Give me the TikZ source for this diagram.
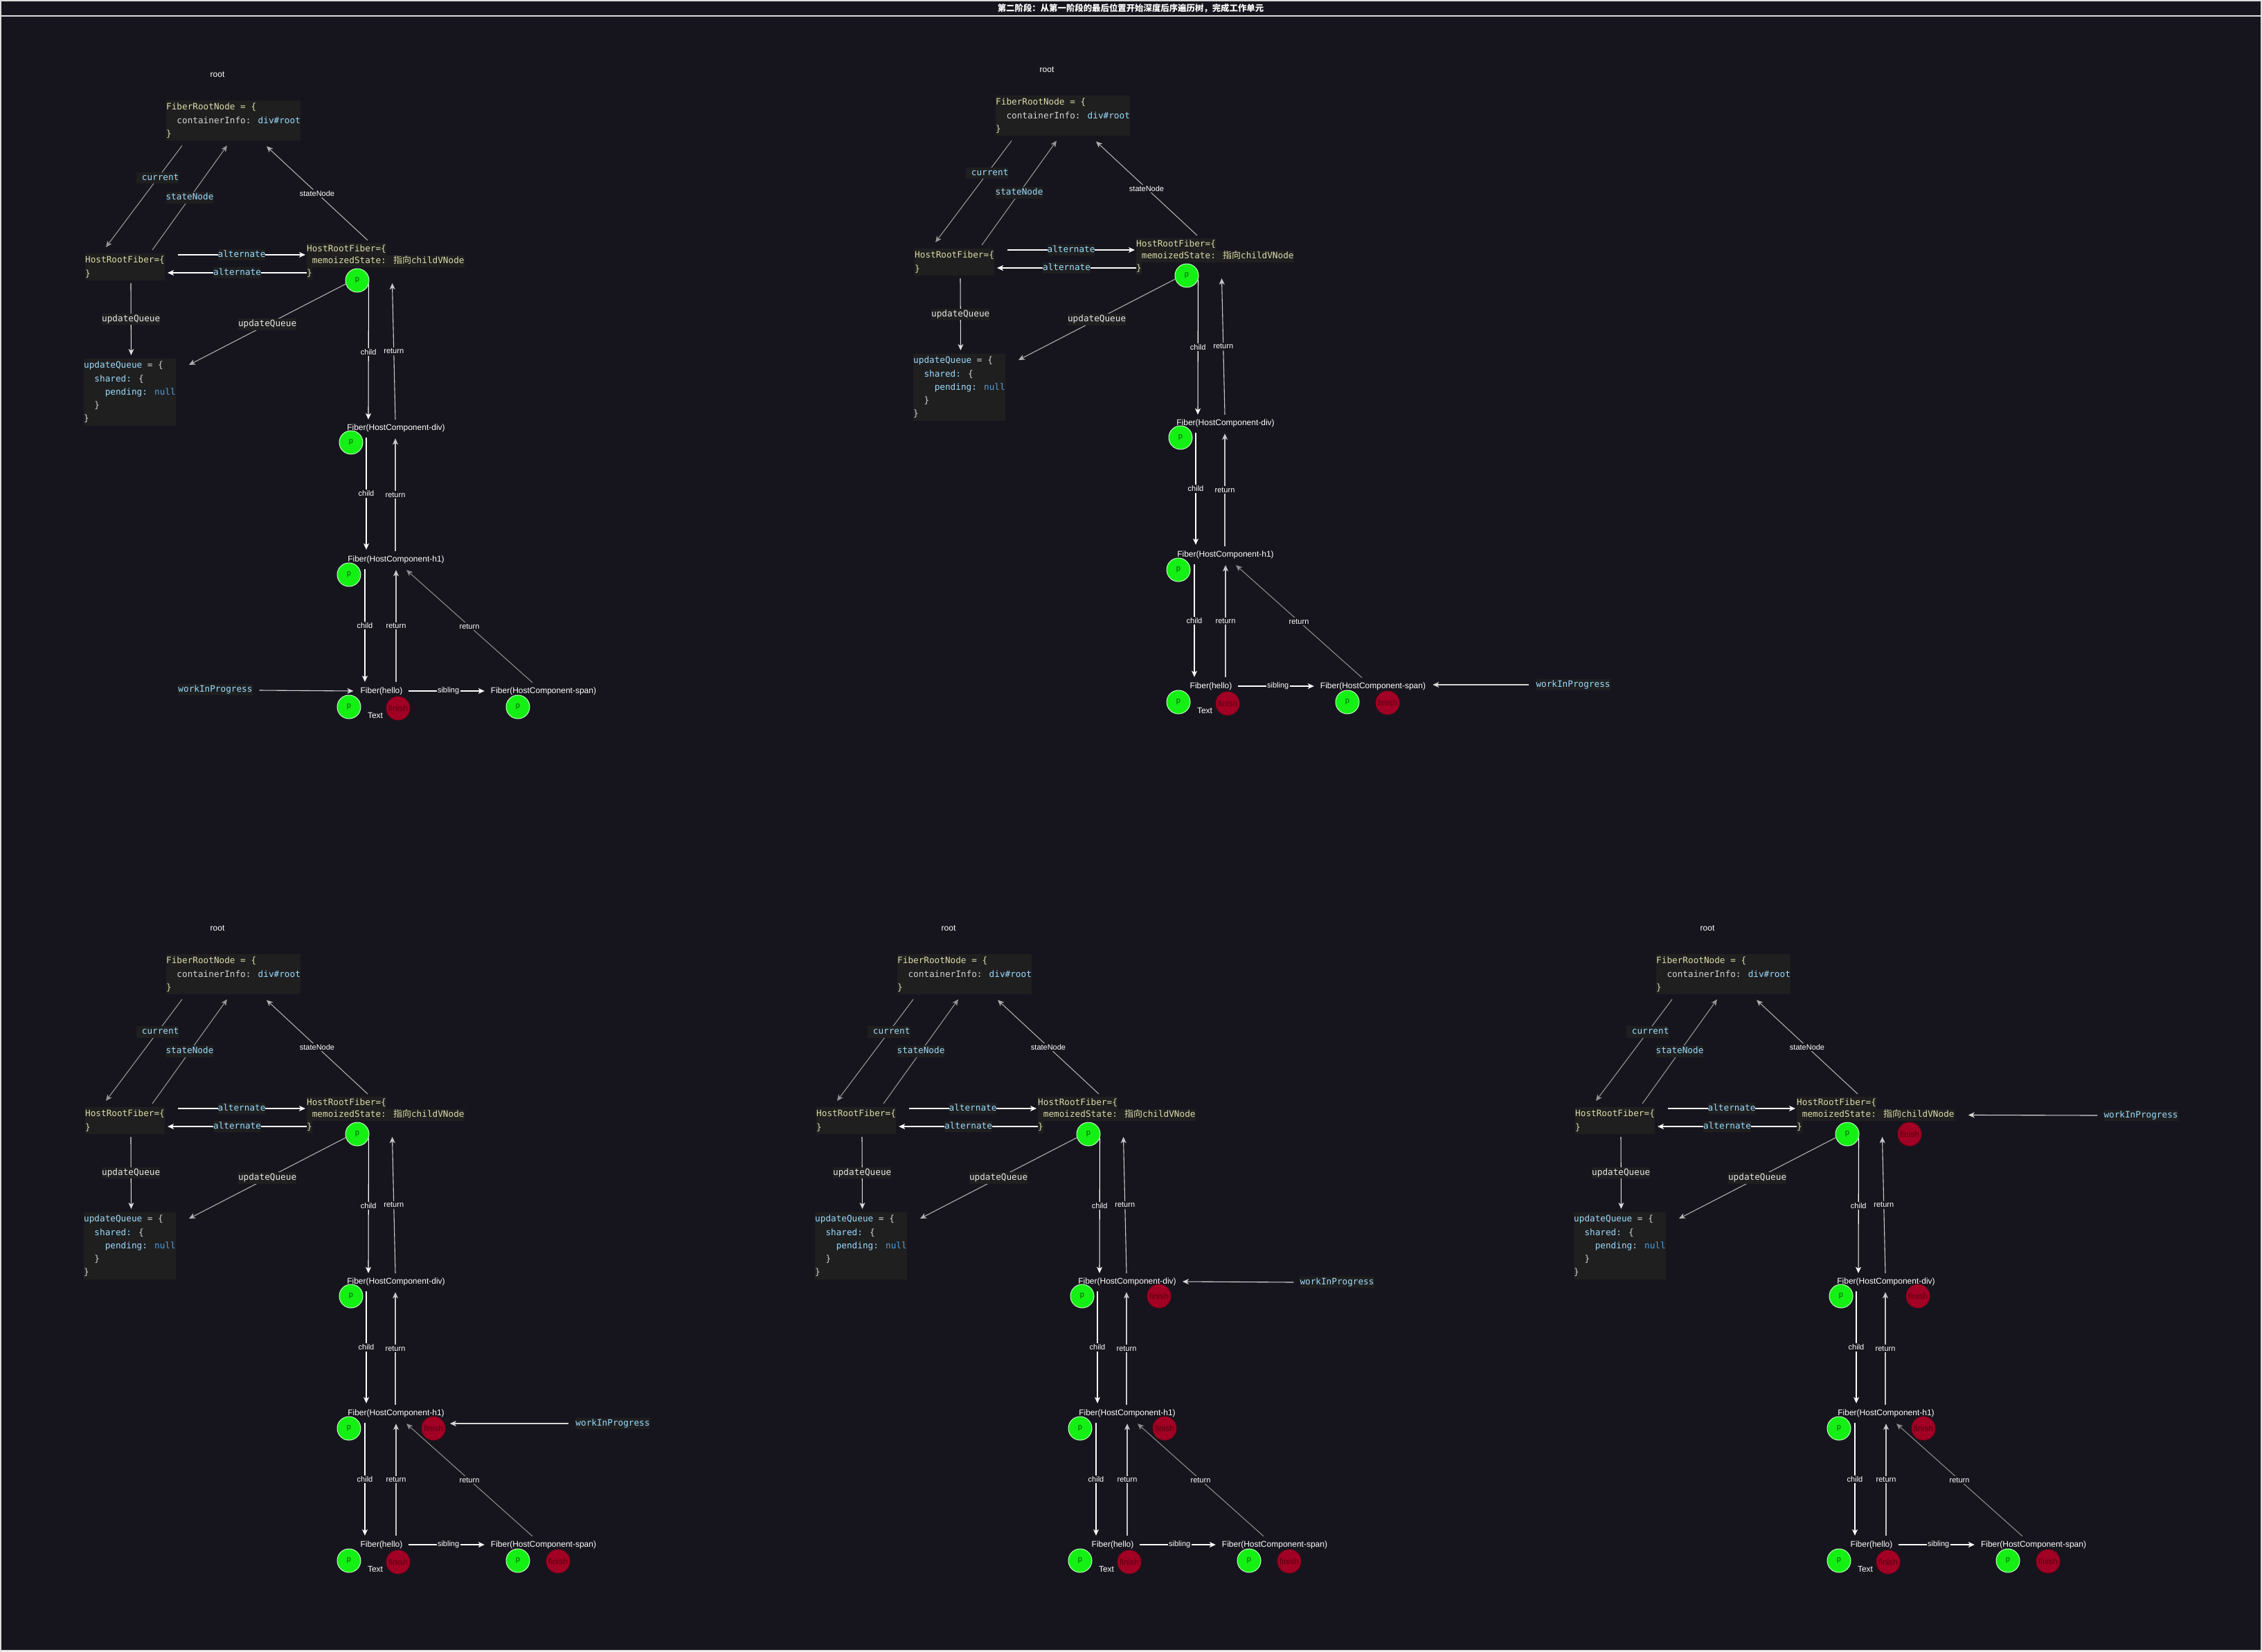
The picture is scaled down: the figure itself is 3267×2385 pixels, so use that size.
\documentclass[tikz,border=0pt]{standalone}
\usepackage{fontspec}
\setmainfont{Liberation Sans}
\newfontfamily\codefont{DejaVu Sans Mono}
\newfontfamily\cjkfont{Noto Sans CJK SC}
\usetikzlibrary{arrows.meta}
\definecolor{canvas}{RGB}{22,21,29}
\definecolor{codebg}{RGB}{31,31,32}
\definecolor{cyel}{HTML}{DCDCAA}
\definecolor{cgray}{HTML}{D4D4D4}
\definecolor{cblue}{HTML}{9CDCFE}
\definecolor{cnull}{HTML}{569CD6}
\definecolor{cwhite}{HTML}{E8E8E8}
\definecolor{pgreen}{RGB}{20,240,20}
\definecolor{pedge}{RGB}{190,255,190}
\definecolor{pgtext}{RGB}{0,90,0}
\definecolor{fred}{RGB}{162,0,36}
\definecolor{fedge}{RGB}{130,0,28}
\definecolor{frtext}{RGB}{85,0,18}
\definecolor{cgA}{RGB}{150,150,150}
\definecolor{cgB}{RGB}{175,175,175}
\definecolor{cgC}{RGB}{220,220,220}
\definecolor{cgD}{RGB}{200,200,200}
\definecolor{cgE}{RGB}{140,140,140}
\definecolor{cgW}{RGB}{215,215,215}
\newlength\chw
\setlength\chw{7.645pt}
\newcommand\cb[1]{{\setlength{\fboxsep}{0pt}\colorbox{codebg}{\strut#1}}}
\tikzset{
  code/.style={font=\codefont\fontsize{12.7}{19.3}\selectfont, fill=codebg, inner sep=0pt, align=left, anchor=north west},
  codeR/.style={font=\codefont\fontsize{12.7}{17.5}\selectfont, text=cyel, inner sep=0pt, align=left, anchor=north west},
  mlbl/.style={font=\codefont\fontsize{12.7}{15}\selectfont, fill=codebg, text=cblue, inner xsep=0pt, inner ysep=2pt, text height=9.5pt, text depth=3pt},
  wlbl/.style={mlbl, text=cwhite},
  slbl/.style={font=\fontsize{11}{13}\selectfont, fill=canvas, text=white, inner sep=1.5pt},
  sanst/.style={font=\fontsize{12}{14}\selectfont, text=white, inner sep=0pt},
  fibt/.style={font=\fontsize{12}{14}\selectfont, text=white, inner sep=0pt, text height=9pt, text depth=3pt},
  pc/.style={circle, minimum size=34pt, inner sep=0pt, fill=pgreen, draw=pedge, line width=1pt, text=pgtext, font=\fontsize{11}{13}\selectfont},
  fc/.style={circle, minimum size=34pt, inner sep=0pt, fill=fred, draw=fedge, line width=1pt, text=frtext, font=\fontsize{12}{14}\selectfont},
  arr/.style={draw=white, line width=1.1pt, -{Stealth[length=9pt,width=8pt,inset=2.5pt]}},
}
\newcommand\fiberpanel{%
  \node[sanst] (root) at (314,108) {root};
  \node[code] (frn) at (240,145) {\strut\textcolor{cyel}{FiberRootNode = \{}\\\strut\hspace*{2\chw}\textcolor{cgray}{containerInfo:} \textcolor{cblue}{div\#root}\\\strut\textcolor{cyel}{\}}};
  \node[code] (hrfL) at (123,366) {\strut\textcolor{cyel}{HostRootFiber=\{}\\\strut\textcolor{cyel}{\}}};
  \node[codeR] (hrfR) at (443,351) {\cb{HostRootFiber=\{}\\\cb{\ memoizedState: {\cjkfont\fontsize{13}{17.5}\selectfont 指向}childVNode}\\\cb{\}}};
  \node[code] (uq) at (121,518) {\strut\textcolor{cblue}{updateQueue} \textcolor{cgray}{= \{}\\\strut\hspace*{2\chw}\textcolor{cblue}{shared:} \textcolor{cgray}{\{}\\\strut\hspace*{4\chw}\textcolor{cblue}{pending:} \textcolor{cnull}{null}\\\strut\hspace*{2\chw}\textcolor{cgray}{\}}\\\strut\textcolor{cgray}{\}}};
  \node[pc] (p1) at (516,405) {p};
  \node[fibt] (divt) at (572,618) {Fiber(HostComponent-div)};
  \node[pc] (p2) at (507,639) {p};
  \node[fibt] (h1t) at (572,808) {Fiber(HostComponent-h1)};
  \node[pc] (p3) at (504,830) {p};
  \node[fibt] (hello) at (551,998) {Fiber(hello)};
  \node[pc] (p4) at (504,1021) {p};
  \node[sanst] (txt) at (542,1033) {Text};
  \node[fibt] (span) at (785,998) {Fiber(HostComponent-span)};
  \node[pc] (p5) at (748,1021) {p};
  \draw[arr, draw=cgA] ([shift={(23,7)}]frn.south west) -- node[mlbl, pos=0.32] (lcur) {\hspace*{\chw}current} ([shift={(30,-9)}]hrfL.north west);
  \draw[arr, draw=cgA] ([shift={(97,-5)}]hrfL.north west) -- node[mlbl] (lsn1) {stateNode} ([shift={(88,7)}]frn.south west);
  \draw[arr, draw=cgB] ([shift={(88,-4)}]hrfR.north west) -- node[slbl] (lsn2) {stateNode} ([shift={(145,8)}]frn.south west);
  \draw[arr] ([shift={(19,2)}]hrfL.north east) -- node[mlbl] (lal1) {alternate} ([shift={(-2,17)}]hrfR.north west);
  \draw[arr] ([shift={(0,43)}]hrfR.north west) -- node[mlbl] (lal2) {alternate} ([shift={(4,28)}]hrfL.north east);
  \draw[arr, draw=cgC] ([shift={(66,4)}]hrfL.south west) -- node[wlbl] (luq1) {updateQueue} ([shift={(2,-5)}]uq.north);
  \draw[arr, draw=cgB] (p1.197) -- node[wlbl] (luq2) {updateQueue} ([shift={(19,9)}]uq.north east);
  \draw[arr] (p1.-20) -- node[slbl] (lch1) {child} ([shift={(-40,-6)}]divt.north);
  \draw[arr, draw=cgD] ([shift={(-1,-6)}]divt.north) -- node[slbl] (lre1) {return} ([shift={(33,4)}]p1.east);
  \draw[arr] ([shift={(-43,8)}]divt.south) -- node[slbl] (lch2) {child} ([shift={(-43,-8)}]h1t.north);
  \draw[arr, draw=cgD] ([shift={(-1,-6)}]h1t.north) -- node[slbl] (lre2) {return} ([shift={(-1,9)}]divt.south);
  \draw[arr] ([shift={(-45,8)}]h1t.south) -- node[slbl] (lch3) {child} ([shift={(-24,-7)}]hello.north);
  \draw[arr, draw=cgD] ([shift={(21,-7)}]hello.north) -- node[slbl] (lre3) {return} ([shift={(0,9)}]h1t.south);
  \draw[arr, draw=cgE] ([shift={(-16,-6)}]span.north) -- node[slbl] (lre4) {return} ([shift={(15,9)}]h1t.south);
  \draw[arr] ([shift={(8,0)}]hello.east) -- node[slbl, pos=0.527] (lsib) {sibling} ([shift={(-9,0)}]span.west);
}
\begin{document}
\begin{tikzpicture}[x=1pt, y=-1pt]
  \useasboundingbox (0,0) rectangle (3267,2385);
  \fill[canvas] (0,0) rectangle (3267,2385);
  \draw[line width=1.5pt, draw=cgC] (1,1) rectangle (3266,2384);
  \draw[line width=1.5pt, draw=cgC] (1,23) -- (3266,23);
  \node[font=\cjkfont\bfseries\fontsize{12.4}{14}\selectfont, text=white, inner sep=0pt] (title) at (1633,12) {第二阶段：从第一阶段的最后位置开始深度后序遍历树，完成工作单元};
  % panel A
  \begin{scope}[name prefix=A-]
    \fiberpanel
    \node[fc] (f4) at (575,1023) {finish};
    \node[mlbl] (wip) at (311,996) {workInProgress};
    \draw[arr, draw=cgW] ([shift={(10,1)}]wip.east) -- ([shift={(-10,0)}]hello.west);
  \end{scope}
  % panel B
  \begin{scope}[shift={(1198,-7)}, name prefix=B-]
    \fiberpanel
    \node[fc] (f4) at (575,1023) {finish};
    \node[fc] (f5) at (806,1022) {finish};
    \node[mlbl] (wip) at (1074,996) {workInProgress};
    \draw[arr, draw=cgW] ([shift={(-10,0)}]wip.west) -- ([shift={(10,-2)}]span.east);
  \end{scope}
  % panel C
  \begin{scope}[shift={(0,1233)}, name prefix=C-]
    \fiberpanel
    \node[fc] (f4) at (575,1023) {finish};
    \node[fc] (f5) at (806,1022) {finish};
    \node[fc] (f3) at (626,830) {finish};
    \node[mlbl] (wip) at (885,823) {workInProgress};
    \draw[arr, draw=cgW] ([shift={(-10,0)}]wip.west) -- ([shift={(8,15)}]h1t.east);
  \end{scope}
  % panel D
  \begin{scope}[shift={(1056,1233)}, name prefix=D-]
    \fiberpanel
    \node[fc] (f4) at (575,1023) {finish};
    \node[fc] (f5) at (806,1022) {finish};
    \node[fc] (f3) at (626,830) {finish};
    \node[fc] (f2) at (618,639) {finish};
    \node[mlbl] (wip) at (875,619) {workInProgress};
    \draw[arr, draw=cgW] ([shift={(-9,0)}]wip.west) -- ([shift={(9,0)}]divt.east);
  \end{scope}
  % panel E
  \begin{scope}[shift={(2152,1233)}, name prefix=E-]
    \fiberpanel
    \node[fc] (f4) at (575,1023) {finish};
    \node[fc] (f5) at (806,1022) {finish};
    \node[fc] (f3) at (626,830) {finish};
    \node[fc] (f2) at (618,639) {finish};
    \node[fc] (f1) at (606,405) {finish};
    \node[mlbl] (wip) at (940,378) {workInProgress};
    \draw[arr, draw=cgW] ([shift={(-9,0)}]wip.west) -- ([shift={(20,0)}]hrfR.east);
  \end{scope}
\end{tikzpicture}
\end{document}
